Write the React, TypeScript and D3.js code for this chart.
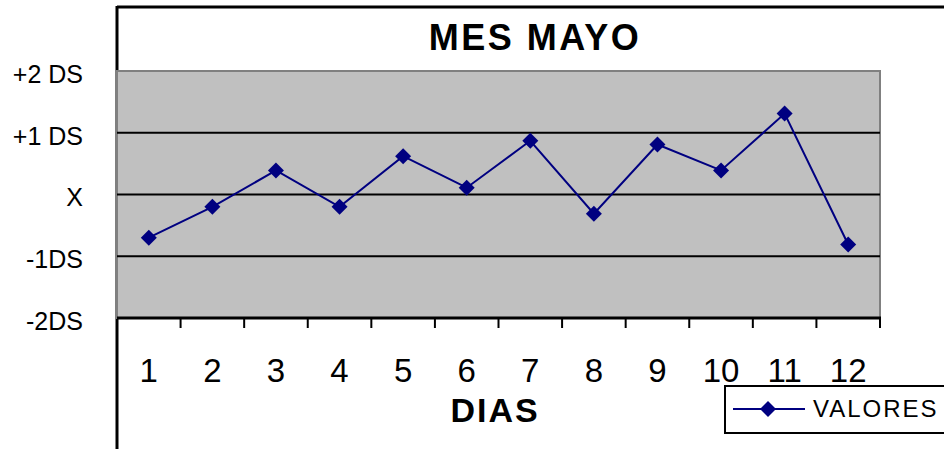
import React from 'react';
import * as d3 from 'd3';

const dias = ['1', '2', '3', '4', '5', '6', '7', '8', '9', '10', '11', '12'];
const valores = [-0.7, -0.2, 0.39, -0.2, 0.62, 0.11, 0.87, -0.31, 0.81, 0.39, 1.31, -0.81];
const yTicks = [2, 1, 0, -1, -2];
const yTickLabels = ['+2 DS', '+1 DS', 'X', '-1DS', '-2DS'];

const W = 944;
const H = 449;
const plot = { left: 117, right: 880, top: 71, bottom: 318 };

const App: React.FC = () => {
  const x = d3.scaleBand<string>().domain(dias).range([plot.left, plot.right]);
  const y = d3.scaleLinear().domain([-2, 2]).range([plot.bottom, plot.top]);

  const line = d3
    .line<number>()
    .x((_, i) => (x(dias[i]) as number) + x.bandwidth() / 2)
    .y((d) => y(d));

  const diamond = (cx: number, cy: number, r: number) =>
    `M${cx},${cy - r}L${cx + r},${cy}L${cx},${cy + r}L${cx - r},${cy}Z`;

  const font = 'Arial, "Liberation Sans", sans-serif';

  return (
    <div style={{ position: 'absolute', left: 0, top: 0 }}>
      <svg width={W} height={H} style={{ display: 'block', background: '#fff' }} fontFamily={font}>
        {/* chart frame */}
        <line x1={117} x2={W} y1={7} y2={7} stroke="#000" strokeWidth={3} />
        <line x1={117} x2={117} y1={6} y2={H} stroke="#000" strokeWidth={3} />

        {/* title */}
        <text x={535} y={50} textAnchor="middle" fontSize={36} fontWeight="bold" letterSpacing={2.5}>
          MES MAYO
        </text>

        {/* plot area */}
        <rect
          x={plot.left}
          y={plot.top}
          width={plot.right - plot.left}
          height={plot.bottom - plot.top}
          fill="#c0c0c0"
          stroke="#808080"
          strokeWidth={2}
        />

        {/* gridlines */}
        {yTicks
          .filter((t) => t !== 2 && t !== -2)
          .map((t) => (
            <line key={t} x1={plot.left} x2={plot.right} y1={y(t)} y2={y(t)} stroke="#000" strokeWidth={2} />
          ))}

        {/* y labels */}
        {yTicks.map((t, i) => (
          <text key={t} x={83} y={y(t) + 3} dy="0.35em" textAnchor="end" fontSize={25}>
            {yTickLabels[i]}
          </text>
        ))}

        {/* x axis */}
        <line x1={plot.left} x2={plot.right + 1} y1={plot.bottom} y2={plot.bottom} stroke="#000" strokeWidth={3} />
        {dias.map((d) => {
          const x1 = (x(d) as number) + x.bandwidth();
          return <line key={'t' + d} x1={x1} x2={x1} y1={plot.bottom} y2={plot.bottom + 10} stroke="#000" strokeWidth={2} />;
        })}
        {dias.map((d) => (
          <text key={'l' + d} x={(x(d) as number) + x.bandwidth() / 2} y={382} textAnchor="middle" fontSize={33}>
            {d}
          </text>
        ))}
        <text x={495} y={422} textAnchor="middle" fontSize={34} fontWeight="bold" letterSpacing={2}>
          DIAS
        </text>

        {/* series */}
        <path d={line(valores) || ''} fill="none" stroke="#000080" strokeWidth={2} />
        {valores.map((v, i) => (
          <path
            key={'p' + i}
            d={diamond((x(dias[i]) as number) + x.bandwidth() / 2, y(v), 8)}
            fill="#000080"
          />
        ))}

        {/* legend */}
        <rect x={725} y={386} width={230} height={47} fill="#fff" stroke="#000" strokeWidth={2} />
        <line x1={733} x2={805} y1={409} y2={409} stroke="#000080" strokeWidth={2} />
        <path d={diamond(768, 409, 8)} fill="#000080" />
        <text x={813} y={409} dy="0.35em" fontSize={24} letterSpacing={2}>
          VALORES
        </text>
      </svg>
    </div>
  );
};

export default App;
